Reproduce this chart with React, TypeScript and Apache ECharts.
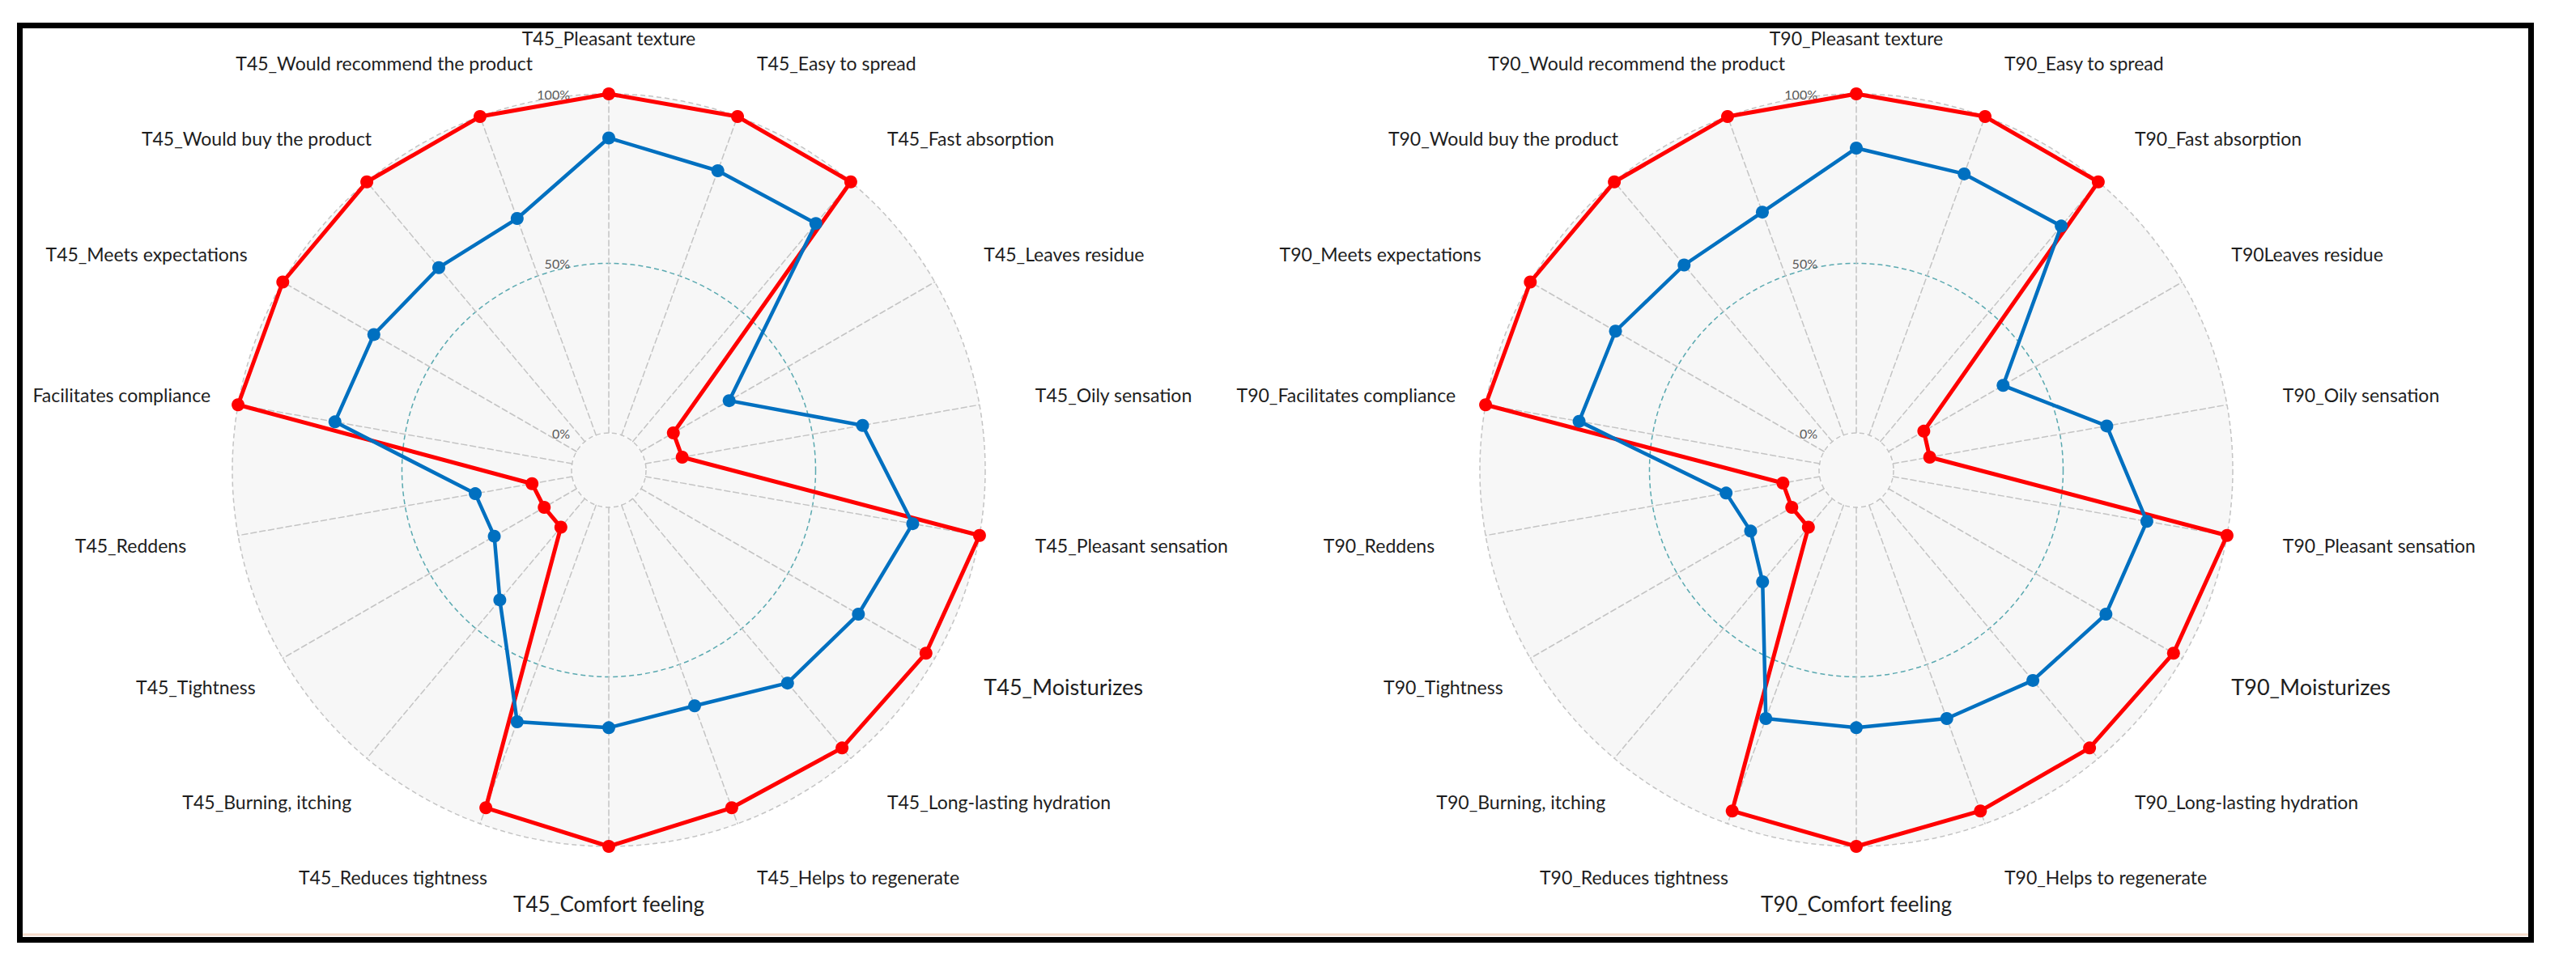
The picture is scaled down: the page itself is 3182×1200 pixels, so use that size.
import React, { useEffect, useRef } from 'react';
import * as echarts from 'echarts';

// ---- data ----
const labelsT45 = [
  'T45_Pleasant texture', 'T45_Easy to spread', 'T45_Fast absorption', 'T45_Leaves residue',
  'T45_Oily sensation', 'T45_Pleasant sensation', 'T45_Moisturizes', 'T45_Long-lasting hydration',
  'T45_Helps to regenerate', 'T45_Comfort feeling', 'T45_Reduces tightness', 'T45_Burning, itching',
  'T45_Tightness', 'T45_Reddens', 'Facilitates compliance', 'T45_Meets expectations',
  'T45_Would buy the product', 'T45_Would recommend the product',
];
const labelsT90 = [
  'T90_Pleasant texture', 'T90_Easy to spread', 'T90_Fast absorption', 'T90Leaves residue',
  'T90_Oily sensation', 'T90_Pleasant sensation', 'T90_Moisturizes', 'T90_Long-lasting hydration',
  'T90_Helps to regenerate', 'T90_Comfort feeling', 'T90_Reduces tightness', 'T90_Burning, itching',
  'T90_Tightness', 'T90_Reddens', 'T90_Facilitates compliance', 'T90_Meets expectations',
  'T90_Would buy the product', 'T90_Would recommend the product',
];
const t45Red = [100, 100, 100, 11, 11, 100, 97, 96, 95, 100, 95, 11, 11, 12, 100, 100, 100, 100];
const t45Blue = [87, 83, 84, 30, 65, 80, 74, 71, 63, 65, 68, 39, 28, 29, 71, 69, 67, 68];
const t90Red = [100, 100, 100, 12, 11, 100, 97, 96, 96, 100, 96, 11, 11, 11, 100, 100, 100, 100];
const t90Blue = [84, 82, 83, 39, 64, 76, 74, 70, 67, 65, 67, 32, 25, 28, 72, 71, 68, 70];
const axisMin = 0;
const axisMax = 100;

// ---- layout (not data) ----
const CENTER_L = [752, 581];
const CENTER_R = [2293, 581];
const R0 = 46;
const R1 = 465;
const shiftT45 = [0, 0, 0, 0, 0, 0, 0, 0, 0, 0, 33, 26, 27, 5, 35, 17, 51, 89];
const shiftT90 = [0, 0, 0, 0, 0, 0, 0, 0, 0, 0, 25, 34, 27, 6, 32, 0, 50, 95];
const FONT = 'Lato, "Noto Sans", sans-serif';

// ECharts places indicators counter-clockwise; reorder so they run clockwise.
const n = labelsT45.length;
const order = Array.from({ length: n }, (_, k) => (k === 0 ? 0 : n - k));
const reorder = (arr: number[]) => order.map((i) => arr[i]);

function buildIndicators(labels: string[], shifts: number[]) {
  return order.map((i) => {
    const pad = [0, 0, 0, 0];
    if (i === 0) pad[2] = -12;
    if (i === n / 2) pad[0] = -12;
    if (shifts[i]) pad[1] = -shifts[i];
    const ind: any = {
      name: labels[i],
      min: axisMin,
      max: axisMax,
      nameTextStyle: { padding: pad, fontSize: i === 6 ? 27 : i === 9 ? 26 : 23 },
    };
    if (i === 0) ind.axisLabel = { show: true };
    return ind;
  });
}

function makeRadar(center: number[], indicator: any[]) {
  return {
    center,
    radius: [R0, R1],
    shape: 'circle',
    startAngle: 90,
    splitNumber: 2,
    nameGap: 70,
    axisName: { color: '#1e1e1e', fontFamily: FONT, fontSize: 23 },
    axisLine: { lineStyle: { color: '#c4c4c4', width: 1.5, type: [7, 4] } },
    splitLine: { lineStyle: { color: ['#c4c4c4', '#5aa9b0', '#c4c4c4'], width: 1.5, type: [6, 4] } },
    splitArea: { show: true, areaStyle: { color: ['#F7F7F7'] } },
    axisTick: { show: false },
    axisLabel: {
      show: false,
      formatter: '{value}%',
      color: '#595959',
      fontSize: 16,
      fontFamily: FONT,
      margin: 48,
    },
    indicator,
  };
}

function seriesItem(values: number[], color: string, width: number, name: string) {
  return {
    name,
    value: reorder(values),
    symbol: 'circle',
    symbolSize: 16,
    itemStyle: { color },
    lineStyle: { color, width },
  };
}

export default function App() {
  const ref = useRef<HTMLDivElement>(null);
  useEffect(() => {
    if (!ref.current) return;
    const chart = echarts.init(ref.current, undefined, { renderer: 'svg' });
    const option: any = {
      animation: false,
      backgroundColor: '#ffffff',
      graphic: [
        { type: 'circle', z: -1, shape: { cx: CENTER_L[0], cy: CENTER_L[1], r: R0 - 1 }, style: { fill: '#F7F7F7' } },
        { type: 'circle', z: -1, shape: { cx: CENTER_R[0], cy: CENTER_R[1], r: R0 - 1 }, style: { fill: '#F7F7F7' } },
        { type: 'line', z: 50, shape: { x1: 28, y1: 1155, x2: 3123, y2: 1155 }, style: { stroke: '#F6DCCB', lineWidth: 3 } },
        {
          type: 'rect', z: 100,
          shape: { x: 24.5, y: 31.5, width: 3102, height: 1130 },
          style: { fill: 'none', stroke: '#000000', lineWidth: 7 },
        },
      ],
      radar: [
        makeRadar(CENTER_L, buildIndicators(labelsT45, shiftT45)),
        makeRadar(CENTER_R, buildIndicators(labelsT90, shiftT90)),
      ],
      series: [
        {
          type: 'radar', radarIndex: 0,
          data: [seriesItem(t45Red, '#FF0000', 5, 'T45 red'), seriesItem(t45Blue, '#0070C0', 4.5, 'T45 blue')],
        },
        {
          type: 'radar', radarIndex: 1,
          data: [seriesItem(t90Red, '#FF0000', 5, 'T90 red'), seriesItem(t90Blue, '#0070C0', 4.5, 'T90 blue')],
        },
      ],
    };
    chart.setOption(option);
    return () => chart.dispose();
  }, []);
  return (
    <div
      ref={ref}
      style={{ position: 'absolute', left: 0, top: 0, width: 3182, height: 1200, background: '#fff' }}
    />
  );
}
